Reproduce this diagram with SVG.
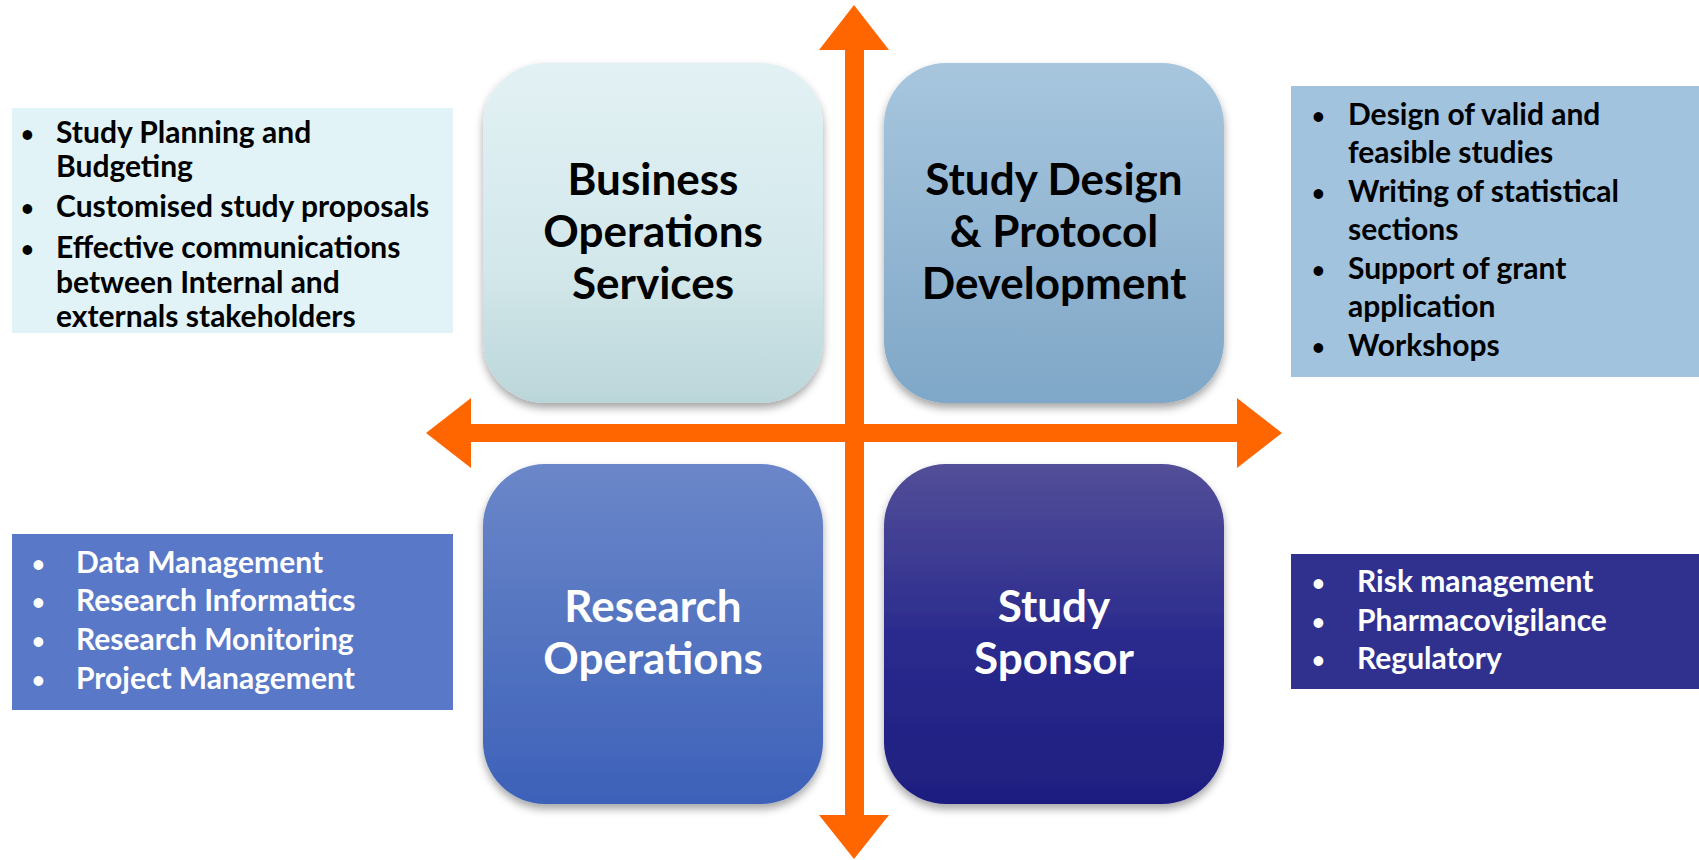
<svg xmlns="http://www.w3.org/2000/svg" width="1699" height="860" viewBox="0 0 1699 860">
<style>
.title{font-family:Lato,"Liberation Sans",sans-serif;font-weight:bold;font-size:44px;text-anchor:middle}
.item{font-family:Lato,"Liberation Sans",sans-serif;font-weight:bold;font-size:30px}
.bul{font-size:22px}
.dark{fill:#000}
.light{fill:#fff}
.arrow{fill:#FF6600}
</style>
<defs>
<linearGradient id="gBiz" x1="0" y1="0" x2="0" y2="1"><stop offset="0" stop-color="#E2F1F4"/><stop offset="0.6" stop-color="#D3E8EB"/><stop offset="1" stop-color="#BBD6D9"/></linearGradient>
<linearGradient id="gDes" x1="0" y1="0" x2="0" y2="1"><stop offset="0" stop-color="#A7C6DE"/><stop offset="1" stop-color="#7FA7C7"/></linearGradient>
<linearGradient id="gRes" x1="0" y1="0" x2="0" y2="1"><stop offset="0" stop-color="#6B87C9"/><stop offset="1" stop-color="#3D61B9"/></linearGradient>
<linearGradient id="gSpo" x1="0" y1="0" x2="0" y2="1"><stop offset="0" stop-color="#534F98"/><stop offset="0.5" stop-color="#2B2B8E"/><stop offset="1" stop-color="#1E1E80"/></linearGradient>
<filter id="sh" x="-10%" y="-10%" width="120%" height="125%"><feDropShadow dx="0" dy="5" stdDeviation="4" flood-color="#000" flood-opacity="0.35"/></filter>
</defs>

<g id="panel-business">
<rect x="12" y="108" width="441" height="225" fill="#E1F3F6"/>
<text class="item dark"><tspan class="bul" x="21" y="142">•</tspan><tspan x="56" y="143">Study Planning and</tspan><tspan x="56" y="177">Budgeting</tspan><tspan class="bul" x="21" y="216">•</tspan><tspan x="56" y="217">Customised study proposals</tspan><tspan class="bul" x="21" y="257">•</tspan><tspan x="56" y="258">Effective communications</tspan><tspan x="56" y="293">between Internal and</tspan><tspan x="56" y="327">externals stakeholders</tspan></text>
</g>

<g id="panel-design">
<rect x="1291" y="86" width="408" height="291" fill="#A1C3DE"/>
<text class="item dark"><tspan class="bul" x="1312" y="124">•</tspan><tspan x="1348" y="125">Design of valid and</tspan><tspan x="1348" y="163">feasible studies</tspan><tspan class="bul" x="1312" y="201">•</tspan><tspan x="1348" y="202">Writing of statistical</tspan><tspan x="1348" y="240">sections</tspan><tspan class="bul" x="1312" y="278">•</tspan><tspan x="1348" y="279">Support of grant</tspan><tspan x="1348" y="317">application</tspan><tspan class="bul" x="1312" y="355">•</tspan><tspan x="1348" y="356">Workshops</tspan></text>
</g>

<g id="panel-research">
<rect x="12" y="534" width="441" height="176" fill="#5A78C8"/>
<text class="item light"><tspan class="bul" x="32" y="572">•</tspan><tspan x="76" y="573">Data Management</tspan><tspan class="bul" x="32" y="610">•</tspan><tspan x="76" y="611">Research Informatics</tspan><tspan class="bul" x="32" y="649">•</tspan><tspan x="76" y="650">Research Monitoring</tspan><tspan class="bul" x="32" y="688">•</tspan><tspan x="76" y="689">Project Management</tspan></text>
</g>

<g id="panel-sponsor">
<rect x="1291" y="554" width="408" height="135" fill="#30318F"/>
<text class="item light"><tspan class="bul" x="1312" y="591">•</tspan><tspan x="1357" y="592">Risk management</tspan><tspan class="bul" x="1312" y="630">•</tspan><tspan x="1357" y="631">Pharmacovigilance</tspan><tspan class="bul" x="1312" y="668">•</tspan><tspan x="1357" y="669">Regulatory</tspan></text>
</g>

<g id="node-business">
<rect x="483" y="63" width="340" height="340" rx="62" fill="url(#gBiz)" filter="url(#sh)"/>
<text class="title dark"><tspan x="653" y="195">Business</tspan><tspan x="653" y="247">Operations</tspan><tspan x="653" y="299">Services</tspan></text>
</g>

<g id="node-design">
<rect x="884" y="63" width="340" height="340" rx="62" fill="url(#gDes)" filter="url(#sh)"/>
<text class="title dark"><tspan x="1054" y="195">Study Design</tspan><tspan x="1054" y="247">&amp; Protocol</tspan><tspan x="1054" y="299">Development</tspan></text>
</g>

<g id="node-research">
<rect x="483" y="464" width="340" height="340" rx="62" fill="url(#gRes)" filter="url(#sh)"/>
<text class="title light"><tspan x="653" y="622">Research</tspan><tspan x="653" y="674">Operations</tspan></text>
</g>

<g id="node-sponsor">
<rect x="884" y="464" width="340" height="340" rx="62" fill="url(#gSpo)" filter="url(#sh)"/>
<text class="title light"><tspan x="1054" y="622">Study</tspan><tspan x="1054" y="674">Sponsor</tspan></text>
</g>

<g id="connectors">
<polygon class="arrow" points="426,433 471,398 471,424 1237,424 1237,398 1282,433 1237,468 1237,442 471,442 471,468"/>
<polygon class="arrow" points="854,5 889,50 864,50 864,815 889,815 854,859 819,815 845,815 845,50 819,50"/>
</g>
</svg>
